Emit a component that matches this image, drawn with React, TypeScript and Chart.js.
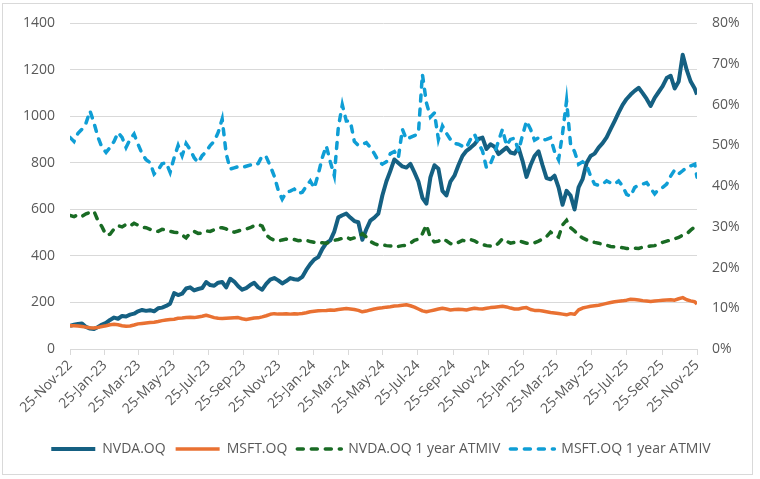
import React, { useEffect, useRef } from "react";
import { Chart, registerables } from "chart.js";

Chart.register(...registerables);

const FONT = "'Open Sans', sans-serif";
const TEXT = "#595959";
const GRID = "#d9d9d9";

const SERIES_NAMES = ["NVDA.OQ", "MSFT.OQ", "NVDA.OQ 1 year ATMIV", "MSFT.OQ 1 year ATMIV"];

const TICK_LABELS = [
  "25-Nov-22", "25-Jan-23", "25-Mar-23", "25-May-23", "25-Jul-23", "25-Sep-23", "25-Nov-23",
  "25-Jan-24", "25-Mar-24", "25-May-24", "25-Jul-24", "25-Sep-24", "25-Nov-24",
  "25-Jan-25", "25-Mar-25", "25-May-25", "25-Jul-25", "25-Sep-25", "25-Nov-25",
];

const LEFT_TICKS = [0, 200, 400, 600, 800, 1000, 1200, 1400];
const RIGHT_TICKS = [0, 10, 20, 30, 40, 50, 60, 70, 80];

// weekly samples from 25-Nov-22, last one on 25-Nov-25
const NVDA = [
  100, 104, 108, 110, 95, 88, 86, 95, 105, 112,
  125, 135, 130, 142, 140, 148, 152, 162, 168, 164,
  167, 162, 175, 178, 185, 195, 240, 232, 238, 260,
  265, 252, 258, 262, 288, 275, 272, 285, 288, 265,
  302, 290, 270, 255, 262, 275, 285, 265, 255, 280,
  298, 305, 295, 282, 292, 305, 300, 298, 310, 340,
  365, 385, 395, 430, 455, 467, 505, 566, 575, 582,
  565, 550, 545, 470, 515, 552, 565, 582, 660, 720,
  766, 815, 800, 785, 780, 796, 760, 720, 650, 625,
  738, 790, 775, 680, 660, 720, 745, 790, 830, 852,
  865, 880, 903, 909, 860, 880, 870, 838, 852, 866,
  845, 840, 866, 809, 740, 790, 830, 850, 790, 735,
  730, 745, 695, 620, 680, 660, 600, 695, 730, 800,
  830, 840, 866, 885, 910, 945, 980, 1016, 1050, 1075,
  1094, 1110, 1123, 1100, 1075, 1045, 1080, 1105, 1130, 1165,
  1175, 1120, 1150, 1265, 1200, 1150, 1120, 1094,
];

const MSFT = [
  100, 100, 99, 97, 94, 91, 90, 93, 97, 100,
  104, 106, 104, 100, 98, 99, 103, 108, 110, 112,
  114, 115, 118, 122, 125, 127, 128, 132, 133, 135,
  137, 135, 138, 141, 145, 140, 135, 132, 131, 132,
  133, 134, 135, 130, 127, 130, 133, 134, 138, 143,
  149, 152, 150, 151, 152, 150, 152, 151, 153, 156,
  160, 162, 164, 165, 166, 168, 167, 170, 172, 174,
  172, 170, 166, 160, 163, 168, 172, 175, 177, 180,
  182, 185, 186, 188, 190, 186, 180, 172, 164, 160,
  164, 168, 172, 175, 172, 168, 170, 171, 170, 168,
  172, 175, 173, 172, 175, 178, 180, 182, 184, 181,
  176, 172, 172, 176, 178, 170, 166, 166, 163, 160,
  157, 155, 153, 150, 147, 152, 149, 168, 176, 180,
  184, 186, 188, 192, 196, 200, 203, 205, 207, 210,
  214, 213, 211, 208, 206, 204, 206, 208, 210, 211,
  212, 210, 216, 221, 212, 207, 203, 193,
];

const NVDA_IV = [
  32.8, 32.5, 33.0, 32.6, 33.2, 33.6, 33.8, 31.5, 30.0, 28.0,
  28.2, 29.5, 30.3, 30.0, 30.6, 30.2, 30.9, 30.4, 29.9, 29.8,
  29.4, 29.0, 28.9, 29.4, 29.3, 28.9, 28.7, 28.6, 28.0, 27.3,
  28.5, 28.9, 28.4, 28.5, 29.0, 28.9, 29.3, 29.8, 29.8, 29.5,
  28.9, 28.7, 29.0, 29.3, 29.5, 29.8, 30.3, 30.6, 30.2, 28.0,
  27.2, 26.7, 26.5, 26.8, 27.0, 26.8, 26.9, 26.6, 26.7, 26.7,
  26.4, 26.2, 26.0, 26.1, 26.0, 26.3, 26.7, 26.9, 27.2, 27.5,
  27.0, 27.3, 27.5, 28.3, 27.5, 26.4, 25.9, 25.5, 25.6, 25.4,
  25.3, 25.5, 25.2, 25.4, 25.5, 26.0, 26.7, 27.0, 28.3, 30.5,
  27.3, 26.3, 26.5, 27.1, 26.6, 25.9, 25.7, 26.2, 26.7, 26.5,
  26.9, 26.6, 26.0, 25.7, 25.4, 25.3, 25.2, 26.0, 27.1, 26.5,
  26.0, 26.2, 26.6, 26.3, 26.0, 25.9, 26.1, 26.5, 27.0, 27.6,
  28.7, 28.0, 27.5, 30.5, 31.6, 29.8, 29.0, 27.9, 27.3, 26.8,
  26.5, 26.2, 26.0, 25.7, 25.5, 25.2, 25.1, 25.0, 24.9, 24.7,
  24.6, 24.8, 24.7, 25.0, 25.1, 25.3, 25.4, 25.8, 26.2, 26.5,
  26.8, 27.1, 27.4, 28.0, 28.3, 29.2, 30.0, 30.7,
];

const MSFT_IV = [
  52.0, 51.0, 53.0, 54.0, 55.5, 58.5, 55.5, 52.0, 49.5, 48.3,
  49.5, 51.0, 53.2, 52.0, 49.5, 51.5, 52.8, 50.3, 48.0, 46.5,
  45.8, 43.0, 44.0, 45.5, 45.8, 43.4, 47.0, 50.0, 47.5, 50.5,
  49.0, 47.0, 45.8, 47.5, 48.5, 50.0, 51.0, 53.2, 56.5, 48.0,
  44.2, 44.5, 44.8, 44.6, 44.9, 45.2, 45.0, 45.6, 47.5, 47.2,
  45.0, 42.5, 39.0, 36.8, 38.5, 38.8, 39.3, 38.2, 38.5, 40.0,
  41.3, 39.5, 43.0, 47.0, 49.9, 46.0, 42.6, 54.4, 60.0, 56.0,
  56.0, 51.0, 50.0, 50.3, 50.7, 49.5, 48.0, 46.2, 45.4, 46.0,
  48.0, 48.5, 47.0, 54.0, 51.5, 52.0, 52.4, 53.0, 67.5, 60.5,
  57.0, 58.0, 51.5, 54.8, 53.0, 51.5, 50.5, 50.3, 49.8, 49.5,
  51.5, 52.8, 50.5, 48.7, 44.5, 45.5, 48.0, 51.1, 54.0, 50.0,
  51.5, 51.8, 48.7, 52.5, 56.0, 54.0, 51.3, 51.9, 51.3, 51.5,
  51.9, 48.5, 46.5, 53.0, 61.0, 50.3, 48.5, 45.4, 46.0, 45.2,
  42.5, 40.5, 40.2, 40.5, 41.3, 40.8, 40.5, 41.3, 40.0, 38.0,
  37.5, 39.7, 40.2, 40.5, 40.9, 39.5, 38.1, 39.3, 39.7, 40.5,
  42.5, 44.0, 43.0, 43.8, 44.6, 45.0, 45.4, 42.2,
];

const MONTHS: Record<string, number> = {
  Jan: 0, Feb: 1, Mar: 2, Apr: 3, May: 4, Jun: 5, Jul: 6, Aug: 7, Sep: 8, Oct: 9, Nov: 10, Dec: 11,
};
const DAY_MS = 86400000;
const parseLabel = (s: string) => {
  const [d, m, y] = s.split("-");
  return Date.UTC(2000 + Number(y), MONTHS[m], Number(d));
};
const START = parseLabel(TICK_LABELS[0]);
const TICK_DAYS = TICK_LABELS.map((s) => Math.round((parseLabel(s) - START) / DAY_MS));
const LAST_DAY = TICK_DAYS[TICK_DAYS.length - 1];
const SAMPLE_DAYS = Array.from({ length: NVDA.length - 1 }, (_, i) => i * 7).concat([LAST_DAY]);

const toPoints = (arr: number[]) => arr.map((v, i) => ({ x: SAMPLE_DAYS[i], y: v }));

export default function App() {
  const ref = useRef<HTMLCanvasElement | null>(null);

  useEffect(() => {
    if (!ref.current) return;
    const font = { family: FONT, size: 14 };
    const chart = new Chart(ref.current, {
      type: "line",
      data: {
        datasets: [
          {
            label: SERIES_NAMES[0],
            data: toPoints(NVDA),
            borderColor: "#156082",
            backgroundColor: "#156082",
            borderWidth: 4,
            pointRadius: 0,
            yAxisID: "y",
            order: 4,
            borderJoinStyle: "round",
          },
          {
            label: SERIES_NAMES[1],
            data: toPoints(MSFT),
            borderColor: "#E97132",
            backgroundColor: "#E97132",
            borderWidth: 3.5,
            pointRadius: 0,
            yAxisID: "y",
            order: 3,
            borderJoinStyle: "round",
          },
          {
            label: SERIES_NAMES[2],
            data: toPoints(NVDA_IV),
            borderColor: "#196B24",
            backgroundColor: "#196B24",
            borderWidth: 3.5,
            borderDash: [6, 8],
            borderCapStyle: "round",
            pointRadius: 0,
            yAxisID: "y1",
            order: 2,
          },
          {
            label: SERIES_NAMES[3],
            data: toPoints(MSFT_IV),
            borderColor: "#0F9ED5",
            backgroundColor: "#0F9ED5",
            borderWidth: 3.5,
            borderDash: [6, 8],
            borderCapStyle: "round",
            pointRadius: 0,
            yAxisID: "y1",
            order: 1,
          },
        ],
      },
      options: {
        responsive: false,
        animation: false,
        layout: { padding: { left: 10, right: 8, top: 22, bottom: 13 } },
        plugins: {
          tooltip: { enabled: false },
          legend: {
            position: "bottom",
            labels: {
              usePointStyle: true,
              pointStyle: "line",
              pointStyleWidth: 44,
              color: TEXT,
              font,
              padding: 10,
              sort: (a: any, b: any) => a.datasetIndex - b.datasetIndex,
              generateLabels: (c: any) =>
                (Chart.defaults.plugins.legend.labels as any).generateLabels(c).map((item: any) => {
                  const ds: any = c.data.datasets[item.datasetIndex];
                  return {
                    ...item,
                    pointStyle: "line",
                    lineDash: ds.borderDash || [],
                    lineCap: ds.borderCapStyle || "butt",
                    lineWidth: ds.borderWidth,
                    strokeStyle: ds.borderColor,
                    fillStyle: ds.borderColor,
                  };
                }),
            },
          },
        },
        scales: {
          x: {
            type: "linear",
            min: 0,
            max: LAST_DAY,
            afterBuildTicks: (s: any) => {
              s.ticks = TICK_DAYS.map((v) => ({ value: v }));
            },
            afterFit: (s: any) => {
              s.height = 83;
            },
            ticks: {
              autoSkip: false,
              minRotation: 45,
              maxRotation: 45,
              color: TEXT,
              font,
              padding: 2,
              callback: (v: any) => {
                const idx = TICK_DAYS.indexOf(Number(v));
                return idx >= 0 ? TICK_LABELS[idx] : "";
              },
            },
            grid: { drawOnChartArea: false, drawTicks: true, tickLength: 6, color: GRID },
            border: { color: GRID, width: 1 },
          },
          y: {
            position: "left",
            min: LEFT_TICKS[0],
            max: LEFT_TICKS[LEFT_TICKS.length - 1],
            afterBuildTicks: (s: any) => {
              s.ticks = LEFT_TICKS.map((v) => ({ value: v }));
            },
            afterFit: (s: any) => {
              s.width = 60;
            },
            ticks: { color: TEXT, font, padding: 15, callback: (v: any) => String(v) },
            grid: { color: GRID, drawTicks: false, lineWidth: 1 },
            border: { display: false },
          },
          y1: {
            position: "right",
            min: RIGHT_TICKS[0],
            max: RIGHT_TICKS[RIGHT_TICKS.length - 1],
            afterBuildTicks: (s: any) => {
              s.ticks = RIGHT_TICKS.map((v) => ({ value: v }));
            },
            afterFit: (s: any) => {
              s.width = 55;
            },
            ticks: { color: TEXT, font, padding: 15, callback: (v: any) => `${v}%` },
            grid: { display: false, drawTicks: false },
            border: { display: false },
          },
        },
      } as any,
    });
    return () => chart.destroy();
  }, []);

  return (
    <div style={{ position: "absolute", left: 0, top: 0, width: 760, height: 479, background: "#fff" }}>
      <canvas ref={ref} width={760} height={479} style={{ width: 760, height: 479, display: "block" }} />
      <div
        style={{
          position: "absolute",
          left: 2,
          top: 3,
          width: 749,
          height: 470,
          border: `1px solid ${GRID}`,
          pointerEvents: "none",
        }}
      />
    </div>
  );
}
